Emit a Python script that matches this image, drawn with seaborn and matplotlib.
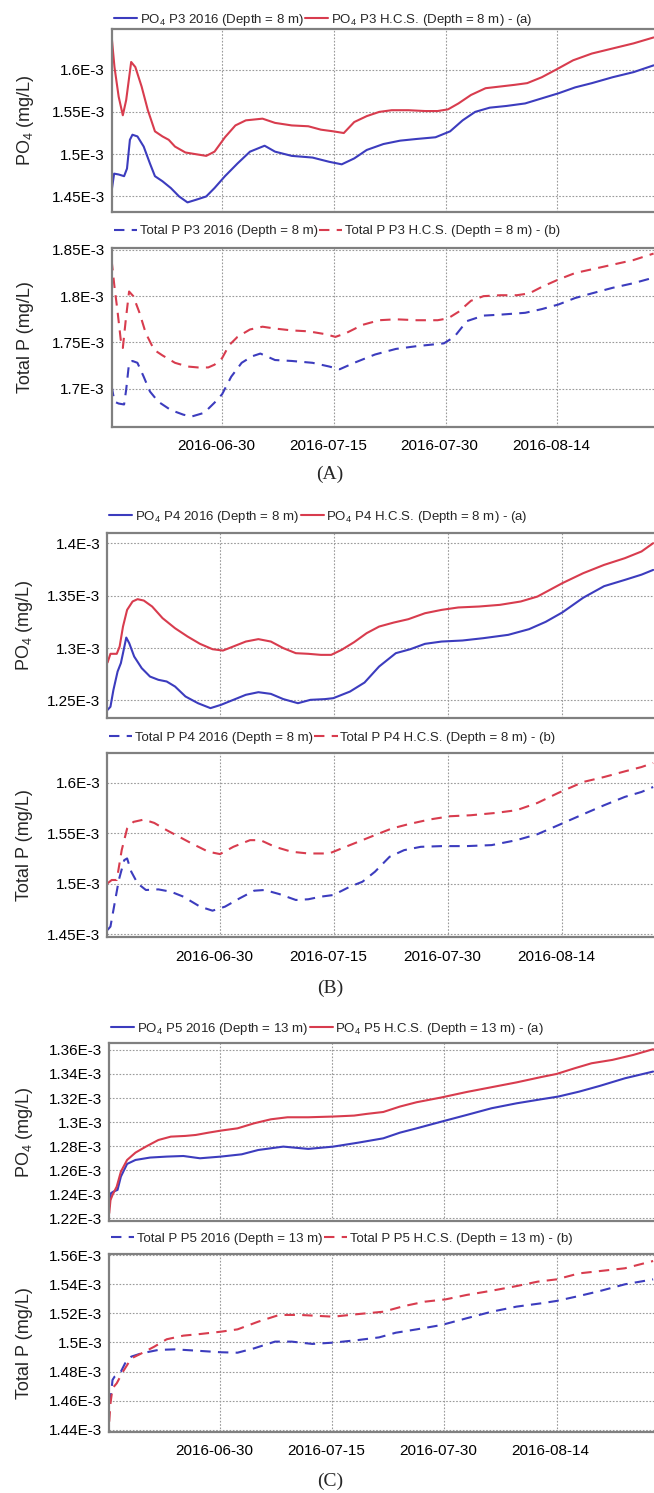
import pandas as pd
import matplotlib
matplotlib.use("Agg")
import matplotlib.pyplot as plt
import matplotlib.transforms as mtransforms
from matplotlib.ticker import MultipleLocator, FuncFormatter
import seaborn as sns

# ---------------------------------------------------------------------------
# Data: time in days since 2016-06-15, concentrations in 1E-3 mg/L
# ---------------------------------------------------------------------------
START = pd.Timestamp("2016-06-15")
X_TICKS = ["2016-06-30", "2016-07-15", "2016-07-30", "2016-08-14"]
X_RANGE_DAYS = (0.2, 72.95)

# Station P3, depth 8 m
p3_po4_2016_day = [0.17, 0.51, 1.12, 1.85, 2.24, 2.63, 2.97, 3.64, 4.48, 5.32,
                   5.99, 7.00, 8.12, 9.24, 10.36, 11.47, 12.87, 13.99, 15.39, 17.07,
                   18.75, 20.71, 22.11, 24.35, 27.14, 29.38, 31.06, 32.74, 34.42, 36.66,
                   38.90, 41.13, 43.65, 45.61, 47.29, 48.97, 50.93, 53.16, 55.68, 57.92,
                   60.16, 62.40, 64.64, 67.43, 70.23, 72.92]
p3_po4_2016 = [1.456, 1.477, 1.476, 1.474, 1.483, 1.517, 1.523, 1.521, 1.509, 1.489,
               1.474, 1.468, 1.460, 1.450, 1.443, 1.446, 1.450, 1.460, 1.474, 1.489,
               1.503, 1.510, 1.503, 1.498, 1.496, 1.491, 1.488, 1.495, 1.505, 1.512,
               1.516, 1.518, 1.520, 1.527, 1.540, 1.550, 1.555, 1.557, 1.560, 1.566,
               1.572, 1.579, 1.584, 1.591, 1.597, 1.605]
p3_po4_hcs_day = [0.17, 0.56, 1.12, 1.68, 2.13, 2.80, 3.36, 4.20, 5.04, 5.99,
                  7.00, 7.84, 8.68, 10.08, 11.47, 12.87, 13.99, 15.39, 16.79, 18.19,
                  20.43, 22.11, 24.35, 26.58, 28.26, 29.94, 31.34, 32.74, 34.42, 36.10,
                  37.78, 40.01, 42.25, 43.93, 45.33, 46.73, 48.41, 50.37, 52.33, 54.28,
                  55.96, 57.92, 60.05, 62.12, 64.64, 67.43, 70.23, 72.92]
p3_po4_hcs = [1.640, 1.603, 1.568, 1.546, 1.564, 1.609, 1.603, 1.580, 1.552, 1.527,
              1.521, 1.517, 1.509, 1.502, 1.500, 1.498, 1.503, 1.520, 1.534, 1.540,
              1.542, 1.537, 1.534, 1.533, 1.529, 1.527, 1.525, 1.538, 1.545, 1.550,
              1.552, 1.552, 1.551, 1.551, 1.553, 1.560, 1.570, 1.578, 1.580, 1.582,
              1.584, 1.591, 1.601, 1.611, 1.619, 1.625, 1.631, 1.638]
p3_tp_2016_day = [0.17, 0.56, 1.12, 1.85, 2.13, 2.52, 2.97, 3.64, 4.48, 5.32,
                  6.44, 8.12, 9.80, 10.92, 12.60, 13.99, 15.00, 16.23, 17.63, 19.02,
                  20.14, 22.11, 24.35, 27.14, 29.38, 30.78, 32.74, 35.54, 38.33, 41.13,
                  44.77, 46.17, 47.85, 50.09, 52.33, 55.68, 57.92, 60.16, 62.40, 64.64,
                  67.43, 70.23, 72.92]
p3_tp_2016 = [1.703, 1.686, 1.684, 1.683, 1.699, 1.728, 1.730, 1.728, 1.713, 1.697,
              1.686, 1.677, 1.672, 1.670, 1.674, 1.685, 1.694, 1.713, 1.728, 1.735,
              1.738, 1.731, 1.730, 1.728, 1.724, 1.721, 1.728, 1.737, 1.743, 1.746,
              1.749, 1.756, 1.773, 1.779, 1.780, 1.782, 1.786, 1.791, 1.798, 1.803,
              1.809, 1.814, 1.820]
p3_tp_hcs_day = [0.17, 0.56, 0.95, 1.40, 1.68, 2.07, 2.52, 3.08, 3.92, 4.76,
                 5.88, 7.00, 8.68, 10.36, 11.76, 13.15, 13.99, 15.00, 15.95, 17.07,
                 18.75, 20.43, 22.11, 24.35, 26.58, 28.82, 30.22, 31.62, 33.86, 36.10,
                 38.33, 41.13, 43.93, 45.33, 46.73, 48.41, 50.09, 52.33, 54.56, 56.24,
                 57.92, 60.16, 62.40, 64.64, 67.43, 70.23, 72.92]
p3_tp_hcs = [1.839, 1.810, 1.785, 1.753, 1.744, 1.774, 1.805, 1.800, 1.782, 1.760,
             1.742, 1.736, 1.728, 1.724, 1.723, 1.723, 1.726, 1.733, 1.747, 1.756,
             1.764, 1.767, 1.765, 1.763, 1.762, 1.759, 1.756, 1.760, 1.769, 1.774,
             1.775, 1.774, 1.774, 1.776, 1.783, 1.795, 1.800, 1.801, 1.801, 1.803,
             1.810, 1.818, 1.825, 1.829, 1.834, 1.839, 1.846]

# Station P4, depth 8 m
p4_po4_2016_day = [0.22, 0.60, 0.99, 1.54, 1.97, 2.25, 2.68, 3.07, 3.72, 4.71,
                   5.80, 6.90, 7.99, 9.09, 10.46, 12.10, 13.74, 15.11, 16.75, 18.39,
                   20.04, 21.68, 23.32, 25.24, 26.88, 28.79, 29.89, 32.08, 33.99, 35.91,
                   38.10, 40.01, 41.93, 44.12, 46.86, 49.59, 52.88, 55.61, 57.80, 59.99,
                   62.73, 65.47, 68.20, 70.39, 71.92]
p4_po4_2016 = [1.241, 1.244, 1.260, 1.2776, 1.2856, 1.2951, 1.3100, 1.3046, 1.2919, 1.2808,
               1.2728, 1.2697, 1.2681, 1.2633, 1.2538, 1.2474, 1.2427, 1.2458, 1.2506, 1.2554,
               1.2579, 1.2563, 1.2513, 1.2474, 1.2506, 1.2513, 1.2522, 1.2585, 1.2671, 1.2824,
               1.2951, 1.2989, 1.3040, 1.3062, 1.3072, 1.3094, 1.3126, 1.3180, 1.3250, 1.3340,
               1.3480, 1.3590, 1.3650, 1.3700, 1.3745]
p4_po4_hcs_day = [0.22, 0.60, 1.43, 1.81, 2.25, 2.79, 3.51, 4.16, 4.98, 6.08,
                  7.45, 9.09, 10.73, 12.37, 14.01, 15.38, 16.75, 18.39, 20.04, 21.68,
                  23.32, 24.96, 26.60, 28.25, 29.61, 30.98, 32.62, 34.27, 35.91, 37.82,
                  39.74, 41.93, 44.12, 46.31, 49.04, 51.78, 54.52, 56.71, 58.35, 59.99,
                  62.73, 65.47, 68.20, 70.39, 71.92]
p4_po4_hcs = [1.2862, 1.2945, 1.2945, 1.3015, 1.3205, 1.3364, 1.3444, 1.3466, 1.3453, 1.3396,
              1.3285, 1.3189, 1.3110, 1.3040, 1.2989, 1.2976, 1.3015, 1.3062, 1.3085, 1.3062,
              1.2999, 1.2951, 1.2945, 1.2935, 1.2935, 1.2983, 1.3056, 1.3142, 1.3205, 1.3243,
              1.3275, 1.3332, 1.3364, 1.3387, 1.3396, 1.3412, 1.3444, 1.3491, 1.3555, 1.3619,
              1.3714, 1.3793, 1.3857, 1.3921, 1.4000]
p4_tp_2016_day = [0.22, 0.60, 1.15, 1.70, 2.41, 2.79, 3.34, 4.16, 5.26, 6.90,
                  8.54, 10.18, 12.37, 14.01, 15.66, 17.57, 19.49, 20.86, 22.77, 24.96,
                  26.60, 28.25, 29.89, 32.08, 33.72, 35.36, 37.28, 39.19, 41.38, 44.12,
                  47.40, 50.69, 53.97, 56.71, 59.44, 62.73, 65.47, 68.20, 70.39, 71.92]
p4_tp_2016 = [1.4543, 1.4576, 1.4807, 1.5038, 1.5235, 1.5252, 1.5120, 1.5005, 1.4939, 1.4945,
              1.4922, 1.4873, 1.4774, 1.4734, 1.4774, 1.4856, 1.4932, 1.4939, 1.4899, 1.4840,
              1.4847, 1.4873, 1.4889, 1.4972, 1.5021, 1.5120, 1.5268, 1.5334, 1.5367, 1.5374,
              1.5374, 1.5384, 1.5433, 1.5492, 1.5581, 1.5690, 1.5779, 1.5862, 1.5911, 1.5960]
p4_tp_hcs_day = [0.22, 0.77, 1.43, 2.08, 2.79, 3.62, 4.98, 6.35, 7.99, 9.64,
                 11.28, 13.47, 15.00, 16.75, 18.94, 20.31, 22.22, 24.41, 26.60, 29.34,
                 30.98, 33.17, 35.36, 37.55, 39.74, 42.48, 45.21, 47.95, 51.23, 53.97,
                 56.71, 59.44, 62.73, 65.47, 68.20, 70.39, 71.92]
p4_tp_hcs = [1.5005, 1.5038, 1.5038, 1.5334, 1.5548, 1.5614, 1.5637, 1.5604, 1.5532, 1.5466,
             1.5400, 1.5318, 1.5295, 1.5367, 1.5433, 1.5433, 1.5367, 1.5318, 1.5301, 1.5301,
             1.5351, 1.5417, 1.5483, 1.5548, 1.5591, 1.5637, 1.5670, 1.5680, 1.5703, 1.5730,
             1.5802, 1.5901, 1.6010, 1.6059, 1.6115, 1.6158, 1.6198]

# Station P5, depth 13 m
p5_po4_2016_day = [0.19, 0.41, 0.75, 1.30, 1.75, 2.58, 3.70, 5.65, 7.87, 10.10,
                   12.33, 15.11, 17.90, 20.12, 23.46, 26.80, 30.14, 33.49, 36.83, 39.05,
                   41.28, 44.62, 47.96, 51.30, 54.64, 57.98, 60.21, 63.00, 65.78, 69.12,
                   72.90]
p5_po4_2016 = [1.2297, 1.2408, 1.2422, 1.2436, 1.2547, 1.2652, 1.2685, 1.2705, 1.2713, 1.2718,
               1.2699, 1.2713, 1.2732, 1.2768, 1.2796, 1.2777, 1.2796, 1.2829, 1.2865, 1.2912,
               1.2948, 1.3004, 1.3059, 1.3115, 1.3156, 1.3190, 1.3212, 1.3253, 1.3301, 1.3364,
               1.3420]
p5_po4_hcs_day = [0.19, 0.36, 0.63, 1.19, 1.75, 2.58, 3.70, 5.09, 6.76, 8.43,
                  10.38, 11.77, 13.45, 15.11, 17.34, 19.57, 21.79, 24.02, 26.80, 30.14,
                  32.93, 34.60, 36.83, 39.05, 41.28, 44.62, 47.96, 51.30, 54.64, 57.98,
                  59.99, 62.44, 64.67, 67.45, 70.23, 72.90]
p5_po4_hcs = [1.2242, 1.2352, 1.2394, 1.2463, 1.2588, 1.2685, 1.2746, 1.2796, 1.2851, 1.2879,
              1.2885, 1.2893, 1.2912, 1.2929, 1.2948, 1.2990, 1.3023, 1.3040, 1.3040, 1.3046,
              1.3054, 1.3068, 1.3084, 1.3129, 1.3165, 1.3205, 1.3250, 1.3290, 1.3330, 1.3375,
              1.3400, 1.3448, 1.3489, 1.3517, 1.3558, 1.3606]
p5_tp_2016_day = [0.19, 0.36, 0.63, 0.91, 1.75, 2.31, 3.14, 4.53, 6.76, 8.99,
                  11.77, 15.11, 17.34, 19.57, 22.35, 24.58, 27.36, 30.14, 33.49, 36.27,
                  38.50, 41.28, 44.62, 47.96, 51.30, 54.64, 57.98, 59.99, 63.00, 65.78,
                  69.12, 72.90]
p5_tp_2016 = [1.4583, 1.4606, 1.4743, 1.4766, 1.4800, 1.4857, 1.4903, 1.4926, 1.4949, 1.4953,
              1.4944, 1.4933, 1.4930, 1.4960, 1.5006, 1.5006, 1.4990, 1.4999, 1.5017, 1.5035,
              1.5067, 1.5090, 1.5120, 1.5166, 1.5211, 1.5246, 1.5269, 1.5285, 1.5319, 1.5353,
              1.5399, 1.5433]
p5_tp_hcs_day = [0.19, 0.36, 0.63, 1.19, 2.03, 3.14, 4.53, 6.20, 7.87, 10.10,
                 12.33, 15.11, 17.34, 20.12, 22.91, 25.69, 30.14, 33.49, 36.83, 39.61,
                 42.39, 45.18, 47.96, 51.30, 54.64, 57.43, 59.99, 63.00, 65.78, 69.12,
                 72.90]
p5_tp_hcs = [1.4457, 1.4583, 1.4686, 1.4720, 1.4800, 1.4891, 1.4926, 1.4971, 1.5022, 1.5047,
             1.5058, 1.5074, 1.5090, 1.5143, 1.5189, 1.5189, 1.5177, 1.5195, 1.5211, 1.5250,
             1.5280, 1.5296, 1.5326, 1.5355, 1.5387, 1.5417, 1.5433, 1.5474, 1.5490, 1.5509,
             1.5559]

# ---------------------------------------------------------------------------
# Style
# ---------------------------------------------------------------------------
sns.set_style("white")
plt.rcParams["font.family"] = ["Liberation Sans", "DejaVu Sans"]
plt.rcParams["mathtext.default"] = "regular"

BLUE = "#3c3cbe"
RED = "#d83c4e"
SPINE = "#808080"
DASH = (0, (5, 3.5))

W, H = 654, 1493
fig = plt.figure(figsize=(W / 100, H / 100), dpi=100)


def to_dates(days):
    return START + pd.to_timedelta(days, unit="D")


def sci_label(v, _pos):
    return f"{round(v * 1e3, 4):g}E-3"


def make_axes(left, right, top, bottom):
    return fig.add_axes([left / W, 1 - bottom / H, (right - left) / W, (bottom - top) / H])


def draw_panel(ax, series, ylim, step, ylabel, legend_y, show_dates, left, right):
    for days, vals, color, ls, label in series:
        sns.lineplot(x=to_dates(days), y=[v * 1e-3 for v in vals], ax=ax,
                     color=color, linestyle=ls, linewidth=1.5, label=label)

    ax.set_xlim(to_dates([X_RANGE_DAYS[0]])[0], to_dates([X_RANGE_DAYS[1]])[0])
    ax.set_ylim(ylim[0] * 1e-3, ylim[1] * 1e-3)
    ax.yaxis.set_major_locator(MultipleLocator(step * 1e-3))
    ax.yaxis.set_major_formatter(FuncFormatter(sci_label))
    ax.set_xticks(pd.to_datetime(X_TICKS))
    ax.set_xticklabels(X_TICKS)

    ax.grid(True, color="#9a9a9a", linestyle=(0, (1.5, 1.5)), linewidth=0.8)
    for side in ("left", "bottom", "top"):
        ax.spines[side].set_color(SPINE)
        ax.spines[side].set_linewidth(1.6)
    ax.spines["right"].set_visible(False)

    ax.tick_params(axis="both", direction="out", length=3, width=1, color=SPINE,
                   labelsize=11, labelcolor="black")
    ax.tick_params(axis="y", pad=2)
    ax.tick_params(axis="x", pad=6, labelbottom=show_dates)
    if show_dates:
        shift = mtransforms.ScaledTranslation(-0.06, 0, fig.dpi_scale_trans)
        for lab in ax.get_xticklabels():
            lab.set_transform(lab.get_transform() + shift)

    ax.set_xlabel("")
    ax.set_ylabel(ylabel, fontsize=13, va="center", ha="center")
    ax.yaxis.set_label_coords((25 - left) / (right - left), 0.5)

    handles, labels = ax.get_legend_handles_labels()
    ax.legend(handles, labels, loc="center left", ncol=2, frameon=False,
              bbox_to_anchor=((left + 2) / W, 1 - legend_y / H),
              bbox_transform=fig.transFigure, fontsize=9.5,
              handlelength=1.75, handletextpad=0.2, columnspacing=0.1,
              borderpad=0, borderaxespad=0)


PO4_LABEL = "PO$_4$ (mg/L)"
TP_LABEL = "Total P (mg/L)"

# (A) Station P3
l, r = 111.8, 653.8
ax = make_axes(l, r, 29, 211.7)
draw_panel(ax, [
    (p3_po4_2016_day, p3_po4_2016, BLUE, "-", "PO$_4$ P3 2016 (Depth = 8 m)"),
    (p3_po4_hcs_day, p3_po4_hcs, RED, "-", "PO$_4$ P3 H.C.S. (Depth = 8 m) - (a)"),
], (1.432, 1.648), 0.05, PO4_LABEL, 20, False, l, r)

ax = make_axes(l, r, 248, 426.7)
draw_panel(ax, [
    (p3_tp_2016_day, p3_tp_2016, BLUE, DASH, "Total P P3 2016 (Depth = 8 m)"),
    (p3_tp_hcs_day, p3_tp_hcs, RED, DASH, "Total P P3 H.C.S. (Depth = 8 m) - (b)"),
], (1.659, 1.852), 0.05, TP_LABEL, 231, True, l, r)

# (B) Station P4
l, r = 107.4, 661.0
ax = make_axes(l, r, 532.7, 718.3)
draw_panel(ax, [
    (p4_po4_2016_day, p4_po4_2016, BLUE, "-", "PO$_4$ P4 2016 (Depth = 8 m)"),
    (p4_po4_hcs_day, p4_po4_hcs, RED, "-", "PO$_4$ P4 H.C.S. (Depth = 8 m) - (a)"),
], (1.233, 1.410), 0.05, PO4_LABEL, 516.7, False, l, r)

ax = make_axes(l, r, 752.7, 937.3)
draw_panel(ax, [
    (p4_tp_2016_day, p4_tp_2016, BLUE, DASH, "Total P P4 2016 (Depth = 8 m)"),
    (p4_tp_hcs_day, p4_tp_hcs, RED, DASH, "Total P P4 H.C.S. (Depth = 8 m) - (b)"),
], (1.447, 1.630), 0.05, TP_LABEL, 738, True, l, r)

# (C) Station P5
l, r = 109.3, 653.5
ax = make_axes(l, r, 1042.7, 1220.7)
draw_panel(ax, [
    (p5_po4_2016_day, p5_po4_2016, BLUE, "-", "PO$_4$ P5 2016 (Depth = 13 m)"),
    (p5_po4_hcs_day, p5_po4_hcs, RED, "-", "PO$_4$ P5 H.C.S. (Depth = 13 m) - (a)"),
], (1.218, 1.366), 0.02, PO4_LABEL, 1029, False, l, r)

ax = make_axes(l, r, 1254, 1431.7)
draw_panel(ax, [
    (p5_tp_2016_day, p5_tp_2016, BLUE, DASH, "Total P P5 2016 (Depth = 13 m)"),
    (p5_tp_hcs_day, p5_tp_hcs, RED, DASH, "Total P P5 H.C.S. (Depth = 13 m) - (b)"),
], (1.4388, 1.5607), 0.02, TP_LABEL, 1239, True, l, r)

for text, y in (("(A)", 474), ("(B)", 988), ("(C)", 1481)):
    fig.text(330 / W, 1 - y / H, text, family="Liberation Serif", fontsize=14,
             ha="center", va="center")

fig.savefig("out.png", dpi=100)
